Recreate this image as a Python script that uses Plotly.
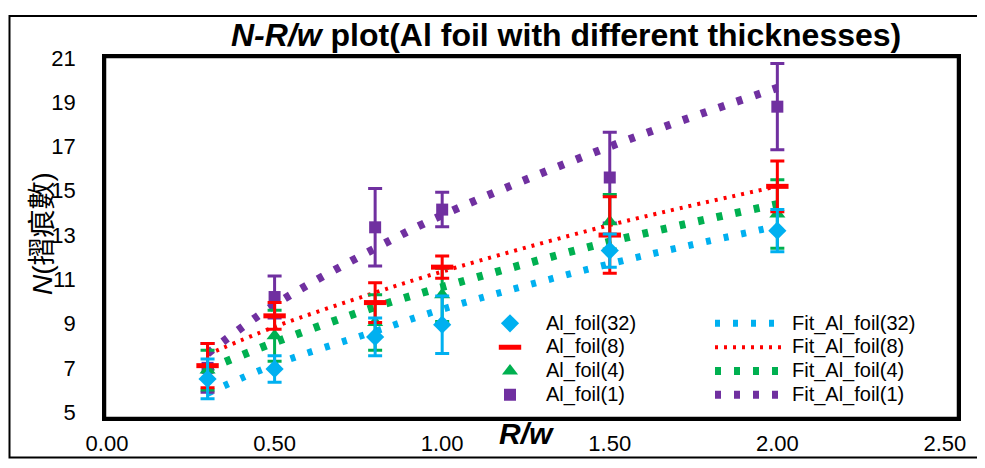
import plotly.graph_objects as go

# ---- data ----
x_vals = [0.3, 0.5, 0.8, 1.0, 1.5, 2.0]

y_32 = [6.5, 6.95, 8.4, 8.95, 12.3, 13.2]
e_32 = [0.9, 0.6, 0.85, 1.3, 0.75, 0.95]
y_8 = [7.1, 9.35, 9.95, 11.55, 13.0, 15.2]
e_8 = [1.0, 0.6, 0.9, 0.5, 1.73, 1.15]
y_4 = [6.9, 8.45, 9.05, 10.3, 13.6, 13.95]
e_4 = [0.9, 1.15, 1.25, 1.2, 1.23, 1.55]
y_1 = [7.0, 10.2, 13.35, 14.15, 15.6, 18.8]
e_1 = [1.1, 0.95, 1.75, 0.78, 2.05, 1.95]

fit_32 = [5.85, 7.15, 8.65, 9.65, 11.7, 13.4]
fit_8 = [7.6, 8.85, 10.4, 11.35, 13.45, 15.2]
fit_4 = [6.95, 8.15, 9.75, 10.65, 12.7, 14.4]
fit_1 = [7.65, 9.85, 12.4, 13.9, 17.0, 19.65]

x_ticks = [0.0, 0.5, 1.0, 1.5, 2.0, 2.5]
y_ticks = [5, 7, 9, 11, 13, 15, 17, 19, 21]

# ---- styles ----
C32, C8, C4, C1 = "#00B0F0", "#FF0000", "#00B050", "#7030A0"
FONT = "Arial, Liberation Sans, Noto Sans CJK TC, sans-serif"

# page has an 8px body margin, so the figure is drawn 8px in from top-left
W, H = 977, 460
ML, MR, MT, MB = 97, 27, 49, 42
PW, PH = W - ML - MR, H - MT - MB


def px_x(px):  # page pixel -> paper
    return (px - 8 - ML) / PW


def px_y(py):
    return (H - MB - (py - 8)) / PH


def lname(s):
    return '<span style="font-size:20px">' + s + '</span>'


fig = go.Figure()

fits = [
    ("Fit_Al_foil(32)", fit_32, C32, 7, "5px,13px", 1),
    ("Fit_Al_foil(8)", fit_8, C8, 4, "3px,6px", 2),
    ("Fit_Al_foil(4)", fit_4, C4, 8, "6px,13px", 3),
    ("Fit_Al_foil(1)", fit_1, C1, 8, "6px,13px", 4),
]
for name, fy, col, w, dash, rank in fits:
    fig.add_trace(go.Scatter(
        x=x_vals, y=fy, mode="lines", name=lname(name),
        line=dict(color=col, width=w, dash=dash, shape="spline"),
        legend="legend2", legendrank=rank, hoverinfo="skip"))

series = [
    ("Al_foil(1)", y_1, e_1, C1, dict(symbol="square", size=12, color=C1), 4),
    ("Al_foil(4)", y_4, e_4, C4, dict(symbol="triangle-up", size=14, color=C4), 3),
    ("Al_foil(8)", y_8, e_8, C8, dict(symbol="line-ew", size=16, color=C8,
                                        line=dict(color=C8, width=5)), 2),
    ("Al_foil(32)", y_32, e_32, C32, dict(symbol="diamond", size=14, color=C32), 1),
]
for name, yy, ee, col, mk, rank in series:
    fig.add_trace(go.Scatter(
        x=x_vals, y=yy, mode="markers", name=lname(name), marker=mk,
        error_y=dict(type="data", array=ee, visible=True, color=col,
                     thickness=3, width=7),
        legend="legend", legendrank=rank))

# plot box (same as the axis frame) and outer frame
fig.add_shape(type="rect", xref="paper", yref="paper",
              x0=0, x1=1, y0=0, y1=1,
              line=dict(color="black", width=2.5), layer="above")
fig.add_shape(type="rect", xref="paper", yref="paper",
              x0=px_x(9.5), x1=px_x(983), y0=px_y(466.5), y1=px_y(15),
              line=dict(color="black", width=2), layer="above")

# title
fig.add_annotation(text="<b><i>N-R/w</i> plot(Al foil with different thicknesses)</b>",
                   xref="paper", yref="paper", x=px_x(566), y=px_y(35),
                   xanchor="center", yanchor="middle", showarrow=False,
                   font=dict(family=FONT, size=32, color="black"))
# axis titles
fig.add_annotation(text="<i>N</i>(摺痕數)", xref="paper", yref="paper",
                   x=px_x(42), y=px_y(238), textangle=-90,
                   xanchor="center", yanchor="middle", showarrow=False,
                   font=dict(family=FONT, size=28, color="black"))
fig.add_annotation(text="<b><i>R/w</i></b>", xref="paper", yref="paper",
                   x=px_x(526), y=px_y(442),
                   xanchor="center", yanchor="middle", showarrow=False,
                   font=dict(family=FONT, size=30, color="black"))

fig.update_layout(
    width=W, height=H,
    margin=dict(l=ML, r=MR, t=MT, b=MB),
    paper_bgcolor="white", plot_bgcolor="white",
    font=dict(family=FONT, color="black"),
    xaxis=dict(range=[-0.006, 2.539], tickvals=x_ticks, tickformat=".2f",
               showgrid=False, zeroline=False, ticks="",
               showline=True, mirror=True, linecolor="black", linewidth=2.5,
               ticklabelstandoff=4, tickfont=dict(size=22, color="black")),
    yaxis=dict(range=[4.735, 21.044], tickvals=y_ticks,
               showgrid=False, zeroline=False, ticks="",
               showline=True, mirror=True, linecolor="black", linewidth=2.5,
               ticklabelstandoff=22, tickfont=dict(size=22, color="black")),
    legend=dict(x=px_x(474), y=px_y(312), xanchor="left", yanchor="top",
                orientation="v", bgcolor="rgba(0,0,0,0)", itemwidth=62,
                font=dict(family=FONT, size=16, color="black"),
                traceorder="normal"),
    legend2=dict(x=px_x(710), y=px_y(312), xanchor="left", yanchor="top",
                 orientation="v", bgcolor="rgba(0,0,0,0)", itemwidth=72,
                 font=dict(family=FONT, size=16, color="black"),
                 traceorder="normal"),
    showlegend=True,
)

fig.write_html("out.html")
